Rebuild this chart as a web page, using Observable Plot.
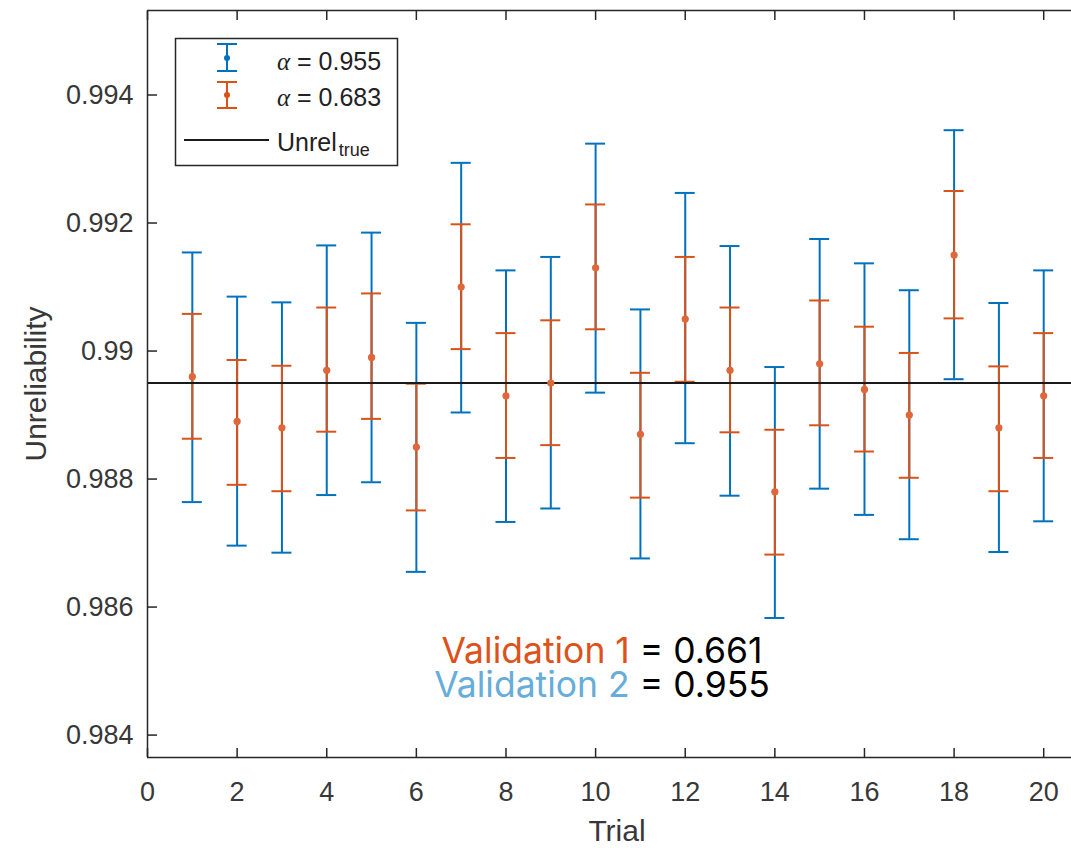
<!DOCTYPE html>
<html><head><meta charset="utf-8">
<script src="https://cdn.jsdelivr.net/npm/d3@7"></script>
<script src="https://cdn.jsdelivr.net/npm/@observablehq/plot@0.6"></script>
<style>body{margin:0;background:#fff}#chart{position:relative;width:1071px;height:848px;overflow:hidden}</style>
</head><body><div id="chart"></div>
<script>
// ---- data ----
const trials = [1,2,3,4,5,6,7,8,9,10,11,12,13,14,15,16,17,18,19,20];
const center = [0.9896,0.9889,0.9888,0.9897,0.9899,0.9885,0.9910,0.9893,0.9895,0.9913,
                0.9887,0.9905,0.9897,0.9878,0.9898,0.9894,0.9890,0.9915,0.9888,0.9893];
const lo955 = [0.98764,0.98696,0.98685,0.98775,0.98795,0.98655,0.98904,0.98733,0.98754,0.98935,
               0.98676,0.98856,0.98774,0.98583,0.98785,0.98744,0.98706,0.98956,0.98686,0.98734];
const hi955 = [0.99154,0.99085,0.99076,0.99165,0.99185,0.99044,0.99294,0.99126,0.99147,0.99324,
               0.99065,0.99247,0.99164,0.98975,0.99175,0.99137,0.99095,0.99345,0.99075,0.99126];
const lo683 = [0.98863,0.98791,0.98781,0.98874,0.98894,0.98751,0.99003,0.98833,0.98853,0.99034,
               0.98771,0.98952,0.98873,0.98682,0.98884,0.98843,0.98802,0.99051,0.98781,0.98833];
const hi683 = [0.99058,0.98986,0.98977,0.99068,0.99090,0.98949,0.99198,0.99028,0.99048,0.99229,
               0.98966,0.99147,0.99068,0.98877,0.99079,0.99038,0.98997,0.99250,0.98976,0.99028];
const unrelTrue = 0.9895;
const xTicks = [0,2,4,6,8,10,12,14,16,18,20];
const yTicks = [0.984,0.986,0.988,0.990,0.992,0.994];
const yTickLabels = ["0.984","0.986","0.988","0.99","0.992","0.994"];
const seriesAlpha = ["0.955","0.683"];
const validationNames = ["Validation 1","Validation 2"];
const validationValues = ["0.661","0.955"];
const xLabel = "Trial", yLabel = "Unreliability";

// ---- table ----
const rows = trials.map((t,i)=>({trial:t, center:center[i], lo955:lo955[i], hi955:hi955[i], lo683:lo683[i], hi683:hi683[i]}));

const W=1071, H=848;
const xDom=[0,20.62], yDom=[0.98365,0.99532];
const capHalf=0.223;
const blue="#0072BD", orange="#D95319", axisColor="#262626";
const sans="'Liberation Sans', Arial, Helvetica, sans-serif";

const errMarks = (lo,hi,color)=>[
  Plot.ruleX(rows,{x:"trial",y1:lo,y2:hi,stroke:color,strokeWidth:2}),
  Plot.ruleY(rows,{y:lo,x1:d=>d.trial-capHalf,x2:d=>d.trial+capHalf,stroke:color,strokeWidth:2}),
  Plot.ruleY(rows,{y:hi,x1:d=>d.trial-capHalf,x2:d=>d.trial+capHalf,stroke:color,strokeWidth:2})
];

const plot = Plot.plot({
  width:W, height:H, marginLeft:147, marginRight:0, marginTop:10, marginBottom:91,
  x:{domain:xDom}, y:{domain:yDom},
  style:{fontFamily:sans, fontSize:"27px", color:"#333", background:"#fff", overflow:"visible"},
  marks:[
    ...errMarks("lo955","hi955",blue),
    Plot.dot(rows,{x:"trial",y:"center",r:3,fill:blue}),
    ...errMarks("lo683","hi683",orange),
    Plot.ruleY([unrelTrue],{stroke:"#1a1a1a",strokeWidth:2}),
    Plot.dot(rows,{x:"trial",y:"center",r:3.6,fill:"#E0673A"}),
    Plot.ruleX([xDom[0]],{stroke:axisColor,strokeWidth:1.5}),
    Plot.ruleY([yDom[0]],{stroke:axisColor,strokeWidth:1.5}),
    Plot.ruleY([yDom[1]],{stroke:axisColor,strokeWidth:1.5}),
    Plot.axisX({ticks:xTicks, anchor:"bottom", tickSize:-9, tickFormat:()=>"", label:null, stroke:axisColor, strokeWidth:1.5}),
    Plot.axisX({ticks:xTicks, anchor:"top", tickSize:-9, tickFormat:()=>"", label:null, stroke:axisColor, strokeWidth:1.5}),
    Plot.axisX({ticks:xTicks, anchor:"bottom", tickSize:0, tickPadding:24, label:null, fill:"#383838"}),
    Plot.axisY({ticks:yTicks, anchor:"left", tickSize:-10, tickFormat:()=>"", label:null, stroke:axisColor, strokeWidth:1.5}),
    Plot.axisY({ticks:yTicks, anchor:"left", tickSize:0, tickPadding:14, label:null, fill:"#383838",
                tickFormat:d=>yTickLabels[yTicks.findIndex(t=>Math.abs(t-d)<1e-9)]})
  ]
});
document.getElementById("chart").appendChild(plot);

// ---- overlay: axis titles, legend, annotation ----
const svg = d3.select(plot);
svg.append("text").attr("x",617).attr("y",841).attr("text-anchor","middle")
  .attr("font-family",sans).attr("font-size",30).attr("fill","#383838").text(xLabel);
svg.append("text").attr("transform","translate(46,384) rotate(-90)").attr("text-anchor","middle")
  .attr("font-family",sans).attr("font-size",30).attr("fill","#383838").text(yLabel);

const lg = svg.append("g").attr("text-anchor","start");
lg.append("rect").attr("x",175.5).attr("y",38.5).attr("width",222).attr("height",127)
  .attr("fill","#fff").attr("stroke",axisColor).attr("stroke-width",1.5);
[[blue,44,71,58,70],[orange,82,108,95,106]].forEach(([c,y1,y2,yd,yb],i)=>{
  lg.append("line").attr("x1",227).attr("x2",227).attr("y1",y1).attr("y2",y2).attr("stroke",c).attr("stroke-width",2);
  lg.append("line").attr("x1",217).attr("x2",237).attr("y1",y1).attr("y2",y1).attr("stroke",c).attr("stroke-width",2);
  lg.append("line").attr("x1",217).attr("x2",237).attr("y1",y2).attr("y2",y2).attr("stroke",c).attr("stroke-width",2);
  lg.append("circle").attr("cx",227).attr("cy",yd).attr("r",3).attr("fill",c);
  const t = lg.append("text").attr("x",277).attr("y",yb).attr("text-anchor","start")
    .attr("font-family",sans).attr("font-size",25).attr("fill","#222");
  t.append("tspan").attr("font-family","'Liberation Serif','DejaVu Serif',serif").attr("font-style","italic").text("α");
  t.append("tspan").text(" = " + seriesAlpha[i]);
});
lg.append("line").attr("x1",184).attr("x2",269).attr("y1",140).attr("y2",140).attr("stroke","#1a1a1a").attr("stroke-width",2);
const ut = lg.append("text").attr("x",277).attr("y",151).attr("text-anchor","start")
  .attr("font-family",sans).attr("font-size",25).attr("fill","#222");
ut.append("tspan").text("Unrel");
ut.append("tspan").attr("font-size",18).attr("dx",2).attr("dy",5).text("true");

const valColors = ["#DD521B","#66ADDA"];
[662.5,696.7].forEach((yb,i)=>{
  const t = svg.append("text").attr("x",602).attr("y",yb).attr("text-anchor","middle")
    .attr("font-family","Inter, 'Noto Sans', sans-serif").attr("font-size",35.5);
  t.append("tspan").attr("fill",valColors[i]).text(validationNames[i]);
  t.append("tspan").attr("fill","#000").text(" = " + validationValues[i]);
});
</script>
</body></html>
